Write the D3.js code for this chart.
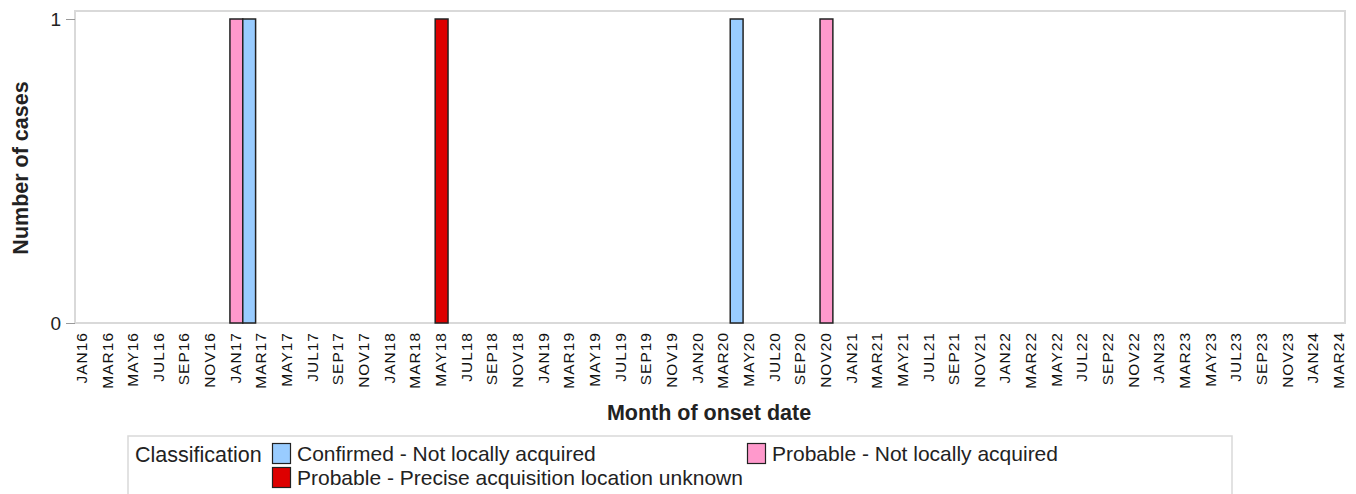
<!DOCTYPE html>
<html>
<head>
<meta charset="utf-8">
<script src="https://cdn.jsdelivr.net/npm/d3@7"></script>
<style>
  body { margin: 0; background: #fff; }
  svg { display: block; font-family: "Liberation Sans", Arial, sans-serif; }
</style>
</head>
<body>
<div id="chart"></div>
<script>
// Data
const classifications = [
  "Confirmed - Not locally acquired",
  "Probable - Not locally acquired",
  "Probable - Precise acquisition location unknown",
];
const caseMonths = ["2017-01", "2017-02", "2018-05", "2020-04", "2020-11"];
const caseClasses = [
  "Probable - Not locally acquired",
  "Confirmed - Not locally acquired",
  "Probable - Precise acquisition location unknown",
  "Confirmed - Not locally acquired",
  "Probable - Not locally acquired",
];
const caseCounts = [1, 1, 1, 1, 1];
const yTicks = [0, 1];
const firstMonth = "2016-01";
const lastMonth = "2024-03";

const classColor = new Map([
  ["Confirmed - Not locally acquired", "#99ccff"],
  ["Probable - Not locally acquired", "#ff99cc"],
  ["Probable - Precise acquisition location unknown", "#dd0000"],
]);

const width = 1356;
const height = 494;
const margin = { top: 11, right: 11, bottom: 171, left: 75 };

const parse = d3.timeParse("%Y-%m");
const fmtKey = d3.timeFormat("%Y-%m");
const fmtLabel = (d) => d3.timeFormat("%b%y")(d).toUpperCase();

const months = d3.timeMonth
  .range(parse(firstMonth), d3.timeMonth.offset(parse(lastMonth), 1))
  .map(fmtKey);

const svg = d3
  .select("#chart")
  .append("svg")
  .attr("width", width)
  .attr("height", height);

const x = d3
  .scaleBand()
  .domain(months)
  .range([margin.left, width - margin.right])
  .padding(0);

const y = d3.scaleLinear().domain([0, 1]).range([323, 19]);

// plot frame
svg
  .append("rect")
  .attr("x", margin.left)
  .attr("y", margin.top)
  .attr("width", width - margin.left - margin.right)
  .attr("height", 323 - margin.top)
  .attr("fill", "#fff")
  .attr("stroke", "#d9d9d9")
  .attr("stroke-width", 2);

// bars
const cases = caseMonths.map((m, i) => ({
  month: m,
  cls: caseClasses[i],
  count: caseCounts[i],
}));

svg
  .append("g")
  .selectAll("rect")
  .data(cases)
  .join("rect")
  .attr("x", (d) => x(d.month) + 1)
  .attr("y", (d) => y(d.count))
  .attr("width", x.bandwidth())
  .attr("height", (d) => y(0) - y(d.count))
  .attr("fill", (d) => classColor.get(d.cls))
  .attr("stroke", "#222")
  .attr("stroke-width", 1.5);

// y axis
const yAxis = svg
  .append("g")
  .attr("transform", `translate(${margin.left},0)`)
  .call(d3.axisLeft(y).tickValues(yTicks).tickFormat(d3.format("d")).tickSize(9).tickPadding(5));
yAxis.select(".domain").remove();
yAxis.selectAll(".tick line").attr("stroke", "#999");
yAxis
  .selectAll(".tick text")
  .attr("fill", "#222")
  .style("font-size", "19px");

// x axis labels (every other month)
const xAxis = svg
  .append("g")
  .attr("transform", `translate(0,${323})`)
  .call(
    d3
      .axisBottom(x)
      .tickValues(months.filter((d, i) => i % 2 === 0))
      .tickFormat((d) => fmtLabel(parse(d)))
      .tickSize(0)
  );
xAxis.select(".domain").remove();
xAxis
  .selectAll(".tick text")
  .attr("transform", "rotate(-90)")
  .attr("text-anchor", "end")
  .attr("x", -9)
  .attr("y", 0)
  .attr("dy", "0.35em")
  .attr("fill", "#111")
  .style("font-size", "15.5px")
  .style("letter-spacing", "1px");

// axis titles
svg
  .append("text")
  .attr("x", 709)
  .attr("y", 420)
  .attr("text-anchor", "middle")
  .style("font-size", "21.5px")
  .style("font-weight", "bold")
  .attr("fill", "#222")
  .text("Month of onset date");

svg
  .append("text")
  .attr("transform", "translate(28,168) rotate(-90)")
  .attr("text-anchor", "middle")
  .style("font-size", "21.5px")
  .style("font-weight", "bold")
  .attr("fill", "#222")
  .text("Number of cases");

// legend
const legend = svg.append("g");
legend
  .append("rect")
  .attr("x", 128)
  .attr("y", 436)
  .attr("width", 1104)
  .attr("height", 70)
  .attr("fill", "#fff")
  .attr("stroke", "#d9d9d9")
  .attr("stroke-width", 1.5);

legend
  .append("text")
  .attr("x", 135)
  .attr("y", 462)
  .style("font-size", "21.5px")
  .attr("fill", "#222")
  .text("Classification");

const legendPos = [
  [272, 443],
  [747, 443],
  [272, 467],
];
const items = legend
  .selectAll("g.item")
  .data(classifications)
  .join("g")
  .attr("class", "item")
  .attr("transform", (d, i) => `translate(${legendPos[i][0]},${legendPos[i][1]})`);

items
  .append("rect")
  .attr("x", 0.5)
  .attr("y", 0.5)
  .attr("width", 18)
  .attr("height", 20)
  .attr("fill", (d) => classColor.get(d))
  .attr("stroke", "#222")
  .attr("stroke-width", 1.2);

items
  .append("text")
  .attr("x", 25)
  .attr("y", 18)
  .style("font-size", "21px")
  .attr("fill", "#222")
  .text((d) => d);
</script>
</body>
</html>
